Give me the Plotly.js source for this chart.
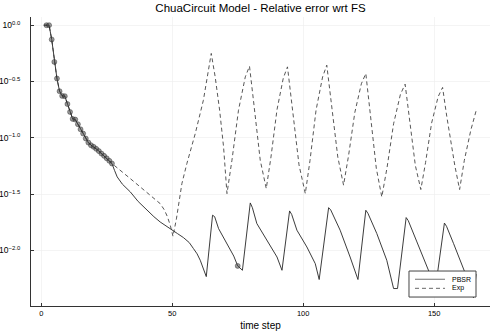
<!DOCTYPE html>
<html>
<head>
<meta charset="utf-8">
<script src="https://cdn.plot.ly/plotly-3.0.1.min.js"></script>
<style>html,body{margin:0;padding:0;background:#fff;}#chart{width:498px;height:332px;}</style>
</head>
<body>
<div id="chart"></div>
<script>
// Shared early part (both methods identical up to step 27): log10 of relative error
const earlySteps  = [1,2,3,4,5,6,7,8,9,10,11,12,13,14,15,16,17,18,19,20,21,22,23,24,25,26,27];
const earlyLogErr = [0,0,0,-0.127,-0.326,-0.473,-0.586,-0.628,-0.630,-0.700,-0.770,-0.832,-0.838,-0.879,-0.924,-0.962,-1.006,-1.042,-1.066,-1.080,-1.098,-1.118,-1.140,-1.160,-1.182,-1.204,-1.228];

// PBSR after step 27
const pbsrSteps  = [28,29,31,34,37,40.3,43,45.4,48,50,52,54.3,56.5,58.1,59.5,60.7,62,63,65.4,66.2,67.7,70,72.1,73.5,75,76,76.8,79.8,80.6,82.3,86.1,90,91.9,94.8,95.6,97.6,101.4,104.6,106.1,109.7,110.5,114.1,117.9,120.9,123.9,124.7,128.1,131.9,134.5,136,139.3,140.1,143.4,147.8,150.5,153.9,154.7,157.4,161.2,163.5,165,166];
const pbsrLogErr = [-1.290,-1.347,-1.412,-1.480,-1.565,-1.643,-1.700,-1.747,-1.790,-1.820,-1.850,-1.886,-1.930,-1.983,-2.030,-2.087,-2.160,-2.232,-1.687,-1.700,-1.806,-1.900,-1.983,-2.050,-2.137,-2.160,-2.176,-1.578,-1.620,-1.761,-1.909,-2.058,-2.176,-1.649,-1.680,-1.820,-1.969,-2.117,-2.258,-1.620,-1.640,-1.820,-2.058,-2.258,-1.643,-1.670,-1.850,-2.087,-2.338,-2.338,-1.708,-1.735,-1.924,-2.176,-2.330,-1.757,-1.785,-1.939,-2.160,-2.300,-2.420,-2.210];

// Exp after step 27
const expSteps  = [34,37,40.3,43,45.4,47,48.2,49.3,50.3,51.6,53.7,55.6,58.8,61.9,63.6,64.9,66.4,68.1,69.6,70.2,70.9,72.8,75.3,77.9,79.5,81,83.6,85.9,87.7,90,92.4,94,95.7,98.4,100.8,102.6,104.9,107.4,109,110.6,113.2,115.4,117.3,119.7,122.2,123.9,125.4,127.9,130,132,134.5,137.1,138.9,140.4,142.8,144.9,146.7,149,151.5,153.2,154.8,157.9,159.7,161.5,164,166];
const expLogErr = [-1.362,-1.420,-1.480,-1.530,-1.584,-1.640,-1.702,-1.780,-1.874,-1.720,-1.406,-1.228,-0.962,-0.666,-0.420,-0.251,-0.459,-0.755,-1.080,-1.258,-1.495,-1.199,-0.755,-0.459,-0.364,-0.666,-1.199,-1.450,-1.170,-0.750,-0.470,-0.370,-0.690,-1.240,-1.495,-1.200,-0.755,-0.460,-0.355,-0.650,-1.170,-1.420,-1.160,-0.775,-0.520,-0.429,-0.735,-1.270,-1.525,-1.265,-0.875,-0.615,-0.524,-0.785,-1.245,-1.459,-1.220,-0.870,-0.635,-0.553,-0.810,-1.250,-1.459,-1.200,-0.930,-0.760];

// Steps marked with a dot on the PBSR curve
const markerSteps = [2,3,4,5,6,7,8,9,10,11,12,13,14,15,16,17,18,19,20,21,22,23,24,25,26,27,75];

const seriesNames = ['PBSR', 'Exp'];
const yTickExp   = [0,-0.5,-1.0,-1.5,-2.0];
const yTickText  = ["10<sup>0.0</sup>","10<sup>−0.5</sup>","10<sup>−1.0</sup>","10<sup>−1.5</sup>","10<sup>−2.0</sup>"];
const xTicks     = [0,50,100,150];

const toVal = a => a.map(v => Math.pow(10, v));
const pX = earlySteps.concat(pbsrSteps);
const pY = earlyLogErr.concat(pbsrLogErr);
const eX = earlySteps.concat(expSteps);
const eY = earlyLogErr.concat(expLogErr);
const mY = markerSteps.map(s => pY[pX.indexOf(s)]);

const pbsrLine = {color: '#262626', width: 0.9};
const expLine  = {color: '#444444', width: 0.9, dash: '4px,3px'};

const traces = [
  {x: eX, y: toVal(eY), name: seriesNames[1], mode: 'lines', type: 'scatter', line: expLine, showlegend: false},
  {x: pX, y: toVal(pY), name: seriesNames[0], mode: 'lines', type: 'scatter', line: pbsrLine, showlegend: false},
  {x: markerSteps, y: toVal(mY), mode: 'markers', type: 'scatter', showlegend: false,
   marker: {size: 5, color: 'rgba(70,70,70,0.55)', line: {width: 0.6, color: 'rgba(20,20,20,0.6)'}}}
];

// Compact legend box (paper coordinates)
const lg = {x0: 0.8235, x1: 0.9695, y0: 0.031, y1: 0.121, lx0: 0.8366, lx1: 0.9020, tx: 0.9129, rows: [0.0924, 0.0612]};
const shapes = [
  {type: 'rect', xref: 'paper', yref: 'paper', x0: lg.x0, x1: lg.x1, y0: lg.y0, y1: lg.y1,
   fillcolor: '#fff', line: {color: '#444', width: 1}, layer: 'above'},
  {type: 'line', xref: 'paper', yref: 'paper', x0: lg.lx0, x1: lg.lx1, y0: lg.rows[0], y1: lg.rows[0],
   line: {color: '#888', width: 1.2}, layer: 'above'},
  {type: 'line', xref: 'paper', yref: 'paper', x0: lg.lx0, x1: lg.lx1, y0: lg.rows[1], y1: lg.rows[1],
   line: {color: '#555', width: 0.9, dash: '4px,3px'}, layer: 'above'}
];
const annotations = seriesNames.map((n, i) => ({
  text: n, xref: 'paper', yref: 'paper', x: lg.tx, y: lg.rows[i], xanchor: 'left', yanchor: 'middle',
  showarrow: false, font: {size: 7, color: '#000'}
}));

const layout = {
  width: 498, height: 332,
  margin: {l: 31, r: 8, t: 17, b: 26},
  paper_bgcolor: '#fff', plot_bgcolor: '#fff',
  font: {family: 'Liberation Sans, Arial, sans-serif', color: '#000'},
  title: {text: 'ChuaCircuit Model - Relative error wrt FS', font: {size: 11.5, color: '#000'},
          x: 0.5, xref: 'paper', y: 1 - 8/332, yref: 'container', yanchor: 'middle'},
  showlegend: false,
  shapes: shapes,
  annotations: annotations,
  xaxis: {range: [-3.9, 171.3], tickvals: xTicks, ticktext: xTicks.map(String),
          showgrid: true, gridcolor: '#ececec', gridwidth: 0.6, zeroline: false,
          showline: true, linecolor: '#333', linewidth: 1, mirror: false,
          ticks: 'inside', ticklen: 3, tickcolor: '#333', tickfont: {size: 7.5},
          title: {text: 'time step', font: {size: 10}, standoff: 4}},
  yaxis: {type: 'log', range: [-2.493, 0.0726], tickvals: toVal(yTickExp), ticktext: yTickText,
          showgrid: true, gridcolor: '#ececec', gridwidth: 0.6, zeroline: false,
          showline: true, linecolor: '#333', linewidth: 1,
          ticks: 'inside', ticklen: 3, tickcolor: '#333', tickfont: {size: 8.5},
          ticklabelstandoff: 8}
};

Plotly.newPlot('chart', traces, layout, {staticPlot: true, displayModeBar: false});
</script>
</body>
</html>
